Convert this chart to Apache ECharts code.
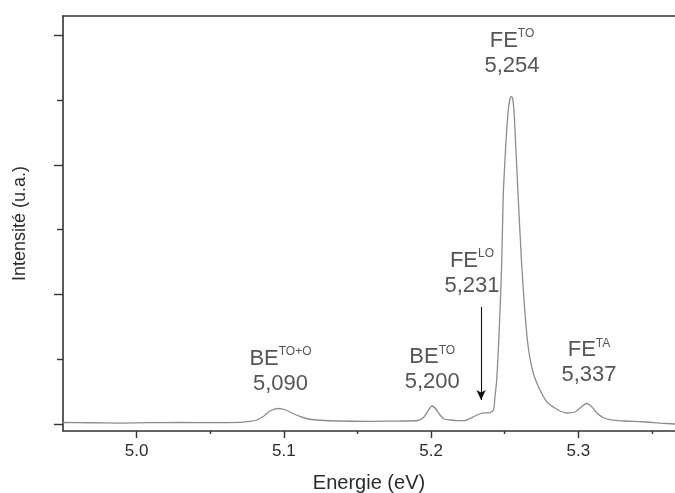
<!DOCTYPE html>
<html>
<head>
<meta charset="utf-8">
<script src="https://cdn.jsdelivr.net/npm/echarts@6/dist/echarts.min.js"></script>
<style>html,body{margin:0;padding:0;background:#fff;}#c{width:675px;height:493px;}</style>
</head>
<body>
<div id="c"></div>
<script>
// Spectrum (energy in eV, intensity in arbitrary units)
const energy = [4.950,4.9683,4.9887,5.0090,5.0294,5.0498,5.0702,5.0770,5.0817,5.0865,5.0906,5.0960,5.1014,5.1062,5.1109,5.1164,5.1225,5.1381,5.1585,5.1789,5.1911,5.1952,5.1979,5.2006,5.2033,5.2061,5.2088,5.2129,5.2183,5.2230,5.2264,5.2305,5.2353,5.2400,5.2424,5.2434,5.2446,5.2463,5.2480,5.2490,5.2502,5.2514,5.2526,5.2536,5.2543,5.2553,5.2563,5.2570,5.2592,5.2615,5.2638,5.2660,5.2694,5.2740,5.2787,5.2830,5.2876,5.2923,5.2978,5.3012,5.3057,5.3093,5.3127,5.3168,5.3215,5.3317,5.3433,5.3555,5.3657];
const intensity = [0.023,0.019,0.015,0.020,0.023,0.022,0.026,0.039,0.062,0.123,0.201,0.239,0.216,0.162,0.116,0.077,0.062,0.046,0.042,0.046,0.054,0.108,0.201,0.278,0.231,0.139,0.077,0.062,0.051,0.051,0.085,0.131,0.170,0.177,0.216,0.417,0.679,1.451,2.485,3.503,4.074,4.537,4.877,5.015,5.051,5.031,4.846,4.537,3.503,2.485,1.713,1.188,0.787,0.525,0.340,0.262,0.201,0.170,0.185,0.247,0.316,0.262,0.170,0.100,0.069,0.046,0.035,0.015,0.000];

// Axis ticks
const xMajorTicks = [5.0, 5.1, 5.2, 5.3];
const xMinorTicks = [5.05, 5.15, 5.25, 5.35];
const yMajorTicks = [0, 2, 4, 6];
const yMinorTicks = [1, 3, 5];

// Peak annotations
const peakBase = ['BE', 'BE', 'FE', 'FE', 'FE'];
const peakSup = ['TO+O', 'TO', 'LO', 'TO', 'TA'];
const peakValue = ['5,090', '5,200', '5,231', '5,254', '5,337'];
const peakLabelX = [5.0977, 5.2008, 5.2278, 5.2550, 5.3073];
const peakLabelY = [0.818, 0.841, 2.330, 5.725, 0.949];

// Arrow pointing at the FE(LO) shoulder
const arrowX = 5.234;
const arrowFromY = 1.806;
const arrowToY = 0.37;

const X_MIN = 4.95, X_MAX = 5.3657, Y_MIN = -0.108, Y_MAX = 6.296;
const axisColor = '#333';
const FONT = '"Liberation Sans", Arial, sans-serif';

const chart = echarts.init(document.getElementById('c'), null, {renderer: 'canvas'});

const labelData = peakLabelX.map((x, i) => ({
  value: [x, peakLabelY[i]],
  label: {formatter: '{b|' + peakBase[i] + '}{s|' + peakSup[i] + '}\n{n|' + peakValue[i] + '}'}
}));

chart.setOption({
  animation: false,
  backgroundColor: '#fff',
  grid: {left: 63, right: 0, top: 16, bottom: 62, containLabel: false, outerBoundsMode: 'none'},
  xAxis: [
    {
      type: 'value', min: X_MIN, max: X_MAX, position: 'bottom',
      name: 'Energie (eV)', nameLocation: 'middle', nameGap: 42,
      nameTextStyle: {fontFamily: FONT, fontSize: 20, color: '#2b2b2b'},
      axisLine: {show: true, onZero: false, lineStyle: {color: axisColor, width: 1.6}},
      axisTick: {show: true, customValues: xMajorTicks, length: 7, lineStyle: {color: axisColor, width: 1.4}},
      axisLabel: {show: true, customValues: xMajorTicks, margin: 12, fontFamily: FONT, fontSize: 17, color: '#2b2b2b',
        formatter: v => v.toFixed(1)},
      splitLine: {show: false}
    },
    {
      type: 'value', min: X_MIN, max: X_MAX, position: 'bottom',
      axisLine: {show: false, onZero: false},
      axisTick: {show: true, customValues: xMinorTicks, length: 3, lineStyle: {color: axisColor, width: 1.4}},
      axisLabel: {show: false},
      splitLine: {show: false}
    },
    {
      type: 'value', min: X_MIN, max: X_MAX, position: 'top',
      axisLine: {show: true, onZero: false, lineStyle: {color: axisColor, width: 1.6}},
      axisTick: {show: false}, axisLabel: {show: false}, splitLine: {show: false}
    }
  ],
  yAxis: [
    {
      type: 'value', min: Y_MIN, max: Y_MAX, position: 'left',
      name: 'Intensité (u.a.)', nameLocation: 'middle', nameGap: 34,
      nameTextStyle: {fontFamily: FONT, fontSize: 18, color: '#2b2b2b'},
      axisLine: {show: true, onZero: false, lineStyle: {color: axisColor, width: 1.6}},
      axisTick: {show: true, customValues: yMajorTicks, length: 9, lineStyle: {color: axisColor, width: 1.4}},
      axisLabel: {show: false},
      splitLine: {show: false}
    },
    {
      type: 'value', min: Y_MIN, max: Y_MAX, position: 'left',
      axisLine: {show: false, onZero: false},
      axisTick: {show: true, customValues: yMinorTicks, length: 6, lineStyle: {color: axisColor, width: 1.4}},
      axisLabel: {show: false},
      splitLine: {show: false}
    }
  ],
  series: [
    {
      type: 'line',
      xAxisIndex: 0, yAxisIndex: 0,
      data: energy.map((x, i) => [x, intensity[i]]),
      showSymbol: false, symbol: 'none',
      smooth: 0.25,
      lineStyle: {color: '#8c8c8c', width: 1.3},
      markLine: {
        silent: true,
        symbol: ['none', 'arrow'],
        symbolSize: [7, 10],
        label: {show: false},
        lineStyle: {color: '#111', width: 1.1, type: 'solid'},
        data: [[{coord: [arrowX, arrowFromY]}, {coord: [arrowX, arrowToY]}]]
      }
    },
    {
      type: 'scatter',
      xAxisIndex: 0, yAxisIndex: 0,
      symbolSize: 0,
      silent: true,
      data: labelData,
      label: {
        show: true, position: 'inside', align: 'center', verticalAlign: 'middle',
        fontFamily: FONT, color: '#2b2b2b',
        rich: {
          b: {fontFamily: FONT, fontSize: 22, color: '#2b2b2b', lineHeight: 25},
          s: {fontFamily: FONT, fontSize: 12, color: '#2b2b2b', lineHeight: 14, verticalAlign: 'top'},
          n: {fontFamily: FONT, fontSize: 22, color: '#2b2b2b', lineHeight: 25}
        }
      }
    }
  ]
});
</script>
</body>
</html>
